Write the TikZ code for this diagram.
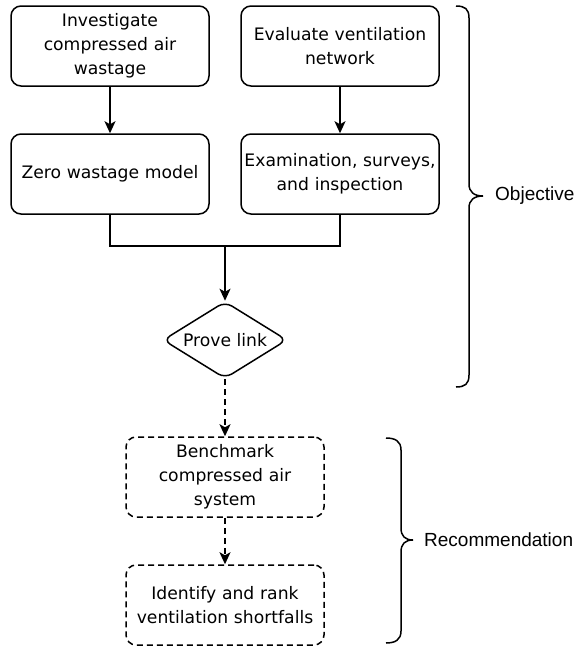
\documentclass[tikz,border=0pt]{standalone}
\usepackage{fontspec}
\setmainfont{DejaVu Sans}
\newfontfamily\labfont{Liberation Sans}
\usetikzlibrary{arrows.meta,shapes.geometric}
\begin{document}
\begin{tikzpicture}[x=1pt,y=-1pt,
  every node/.style={font=\fontsize{17.2}{24}\selectfont},
  box/.style={draw, line width=1.5pt, rounded corners=10pt, text width=196pt, align=center, inner xsep=1pt, inner ysep=0pt, minimum height=80pt},
  dbox/.style={box, dash pattern=on 6pt off 4pt},
  diam/.style={draw, line width=1.5pt, diamond, aspect=1.64, inner sep=0pt, minimum width=124pt, minimum height=77pt, rounded corners=8pt},
  arr/.style={line width=1.5pt, -{Stealth[length=12pt,width=11pt,inset=3pt]}},
  darr/.style={arr, dash pattern=on 6pt off 4pt},
  conn/.style={line width=1.5pt},
  brace/.style={line width=1.5pt},
  lab/.style={font=\labfont\fontsize{19}{23}\selectfont, anchor=west, inner sep=0pt}
]
\useasboundingbox (0,0) rectangle (576,646);
\node[box] (b1) at (110,46) {Investigate\\compressed air\\wastage};
\node[box] (b2) at (340,46) {Evaluate ventilation\\network};
\node[box] (b3) at (110,174) {Zero wastage model};
\node[box] (b4) at (340,174) {Examination, surveys,\\and inspection};
\node[diam] (d) at (225,340) {Prove link};
\node[dbox] (b5) at (225,477) {Benchmark\\compressed air\\system};
\node[dbox] (b6) at (225,605) {Identify and rank\\ventilation shortfalls};
\coordinate (j) at (225,246);
\draw[arr] (b1) -- (b3);
\draw[arr] (b2) -- (b4);
\draw[conn] (b3.south) |- (j) -| (b4.south);
\draw[arr] (j) -- (d.north);
\draw[darr] (d.south) -- (b5.north);
\draw[darr] (b5.south) -- (b6.north);
% braces
\draw[brace] (456,6) .. controls (465,6) and (469,9) .. (469,18) -- (469,184)
  .. controls (469,192) and (474,196) .. (483,196)
  .. controls (474,196) and (469,200) .. (469,208) -- (469,375)
  .. controls (469,384) and (465,387) .. (456,387);
\draw[brace] (386,438) .. controls (395,438) and (401,441) .. (401,450) -- (401,528)
  .. controls (401,536) and (405,540) .. (413,540)
  .. controls (405,540) and (401,544) .. (401,552) -- (401,631)
  .. controls (401,640) and (395,643) .. (386,643);
\node[lab] (lo) at (495,196) {Objective};
\node[lab] (lr) at (424,540) {Recommendation};
\end{tikzpicture}
\end{document}
